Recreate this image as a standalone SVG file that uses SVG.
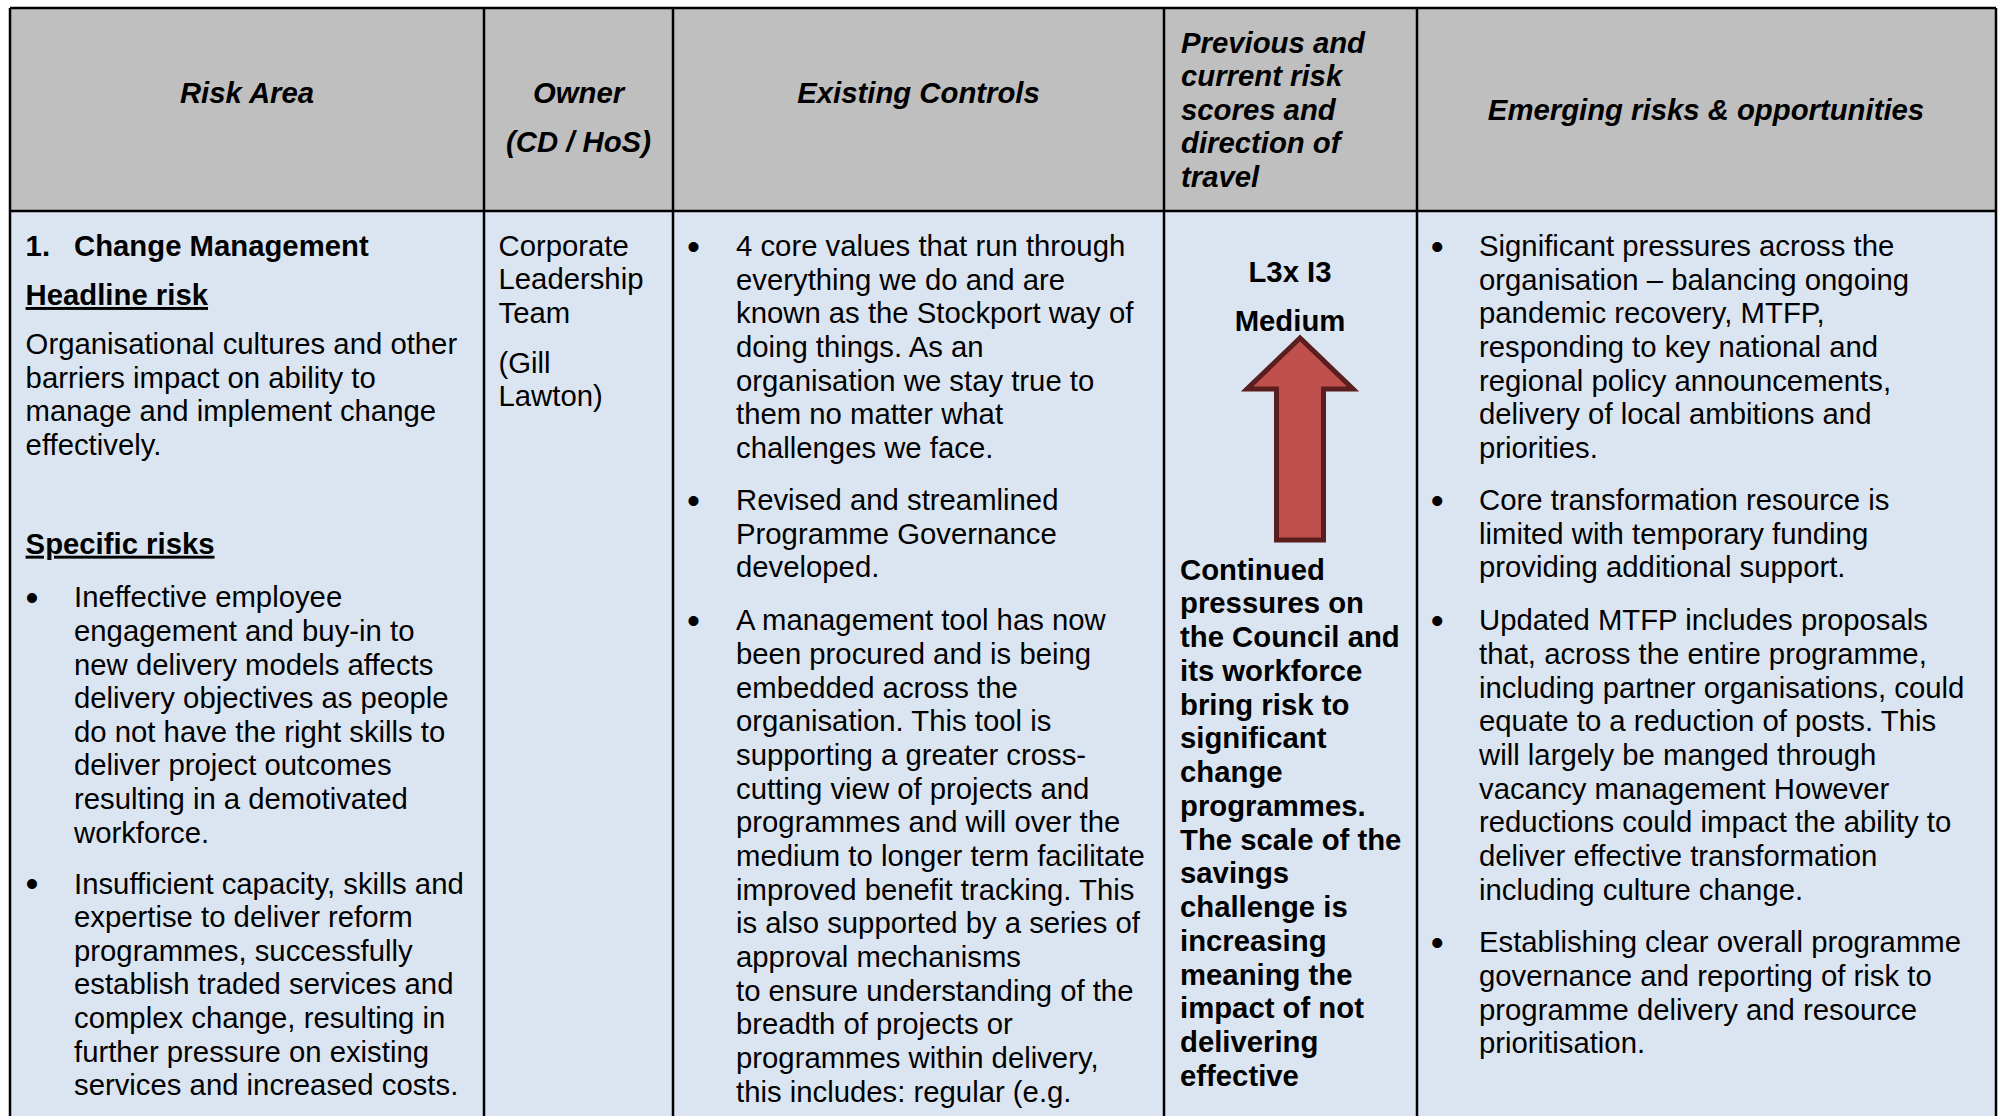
<svg xmlns="http://www.w3.org/2000/svg" width="2004" height="1116" viewBox="0 0 2004 1116">
<style>
text{font-family:"Liberation Sans",Arial,sans-serif;font-size:29.3px;fill:#000}
.h{font-weight:bold;font-style:italic}
.b{font-weight:bold}
.c{text-anchor:middle}
.u{text-decoration:underline}
.bl{font-size:37px;text-anchor:middle}
.grid{stroke:#000;stroke-width:2.5;fill:none}
</style>
<rect x="0" y="0" width="2004" height="1116" fill="#fff"/>
<rect x="10" y="8" width="1986" height="203" fill="#bfbfbf"/>
<rect x="10" y="211" width="1986" height="905" fill="#dbe5f1"/>

<g id="grid" class="grid">
<path d="M10 8H1996M10 211H1996M10 8V1116M484 8V1116M673 8V1116M1164 8V1116M1417 8V1116M1996 8V1116"/>
</g>

<g id="header-risk-area"><text class="h c" x="247" y="102.5">Risk Area</text></g>
<g id="header-owner"><text class="h c" x="578.5" y="102.5">Owner</text><text class="h c" x="578.5" y="152">(CD / HoS)</text></g>
<g id="header-controls"><text class="h c" x="918.5" y="102.5">Existing Controls</text></g>
<g id="header-scores" class="h">
<text class="h" x="1181" y="52.5">Previous and</text>
<text class="h" x="1181" y="86.1">current risk</text>
<text class="h" x="1181" y="119.7">scores and</text>
<text class="h" x="1181" y="153.3">direction of</text>
<text class="h" x="1181" y="186.9">travel</text>
</g>
<g id="header-emerging"><text class="h c" x="1706" y="120">Emerging risks &amp; opportunities</text></g>

<g id="cell-risk-area">
<text class="b" x="25.6" y="255.5">1.</text>
<text class="b" x="74" y="255.5">Change Management</text>
<text class="b u" x="25.6" y="305">Headline risk</text>
<text x="25.6" y="354">Organisational cultures and other</text>
<text x="25.6" y="387.6">barriers impact on ability to</text>
<text x="25.6" y="421.2">manage and implement change</text>
<text x="25.6" y="454.8">effectively.</text>
<text class="b u" x="25.6" y="553.7">Specific risks</text>
<text class="bl" x="32" y="610">•</text>
<text x="74" y="607.3">Ineffective employee</text>
<text x="74" y="640.9">engagement and buy-in to</text>
<text x="74" y="674.5">new delivery models affects</text>
<text x="74" y="708.1">delivery objectives as people</text>
<text x="74" y="741.7">do not have the right skills to</text>
<text x="74" y="775.3">deliver project outcomes</text>
<text x="74" y="808.9">resulting in a demotivated</text>
<text x="74" y="842.5">workforce.</text>
<text class="bl" x="32" y="896.3">•</text>
<text x="74" y="893.6">Insufficient capacity, skills and</text>
<text x="74" y="927.2">expertise to deliver reform</text>
<text x="74" y="960.8">programmes, successfully</text>
<text x="74" y="994.4">establish traded services and</text>
<text x="74" y="1028">complex change, resulting in</text>
<text x="74" y="1061.6">further pressure on existing</text>
<text x="74" y="1095.2">services and increased costs.</text>
</g>

<g id="cell-owner">
<text x="498.5" y="255.5">Corporate</text>
<text x="498.5" y="289">Leadership</text>
<text x="498.5" y="322.7">Team</text>
<text x="498.5" y="372.5">(Gill</text>
<text x="498.5" y="406">Lawton)</text>
</g>

<g id="cell-controls">
<text class="bl" x="693.5" y="258.7">•</text>
<text x="736" y="256">4 core values that run through</text>
<text x="736" y="289.65">everything we do and are</text>
<text x="736" y="323.3">known as the Stockport way of</text>
<text x="736" y="356.95">doing things. As an</text>
<text x="736" y="390.6">organisation we stay true to</text>
<text x="736" y="424.25">them no matter what</text>
<text x="736" y="457.9">challenges we face.</text>
<text class="bl" x="693.5" y="512.7">•</text>
<text x="736" y="510">Revised and streamlined</text>
<text x="736" y="543.65">Programme Governance</text>
<text x="736" y="577.3">developed.</text>
<text class="bl" x="693.5" y="633.1">•</text>
<text x="736" y="630.4">A management tool has now</text>
<text x="736" y="664.05">been procured and is being</text>
<text x="736" y="697.7">embedded across the</text>
<text x="736" y="731.35">organisation. This tool is</text>
<text x="736" y="765">supporting a greater cross-</text>
<text x="736" y="798.65">cutting view of projects and</text>
<text x="736" y="832.3">programmes and will over the</text>
<text x="736" y="865.95">medium to longer term facilitate</text>
<text x="736" y="899.6">improved benefit tracking. This</text>
<text x="736" y="933.25">is also supported by a series of</text>
<text x="736" y="966.9">approval mechanisms</text>
<text x="736" y="1000.55">to ensure understanding of the</text>
<text x="736" y="1034.2">breadth of projects or</text>
<text x="736" y="1067.85">programmes within delivery,</text>
<text x="736" y="1101.5">this includes: regular (e.g.</text>
</g>

<g id="cell-scores">
<text class="b c" x="1290" y="281.5">L3x I3</text>
<text class="b c" x="1290" y="331">Medium</text>
<polygon points="1300,338 1247,389 1276.5,389 1276.5,540 1323.5,540 1323.5,389 1353,389" fill="#c0504d" stroke="#5a1e1e" stroke-width="5" stroke-linejoin="miter"/>
<text class="b" x="1180" y="579.5">Continued</text>
<text class="b" x="1180" y="613.25">pressures on</text>
<text class="b" x="1180" y="647">the Council and</text>
<text class="b" x="1180" y="680.75">its workforce</text>
<text class="b" x="1180" y="714.5">bring risk to</text>
<text class="b" x="1180" y="748.25">significant</text>
<text class="b" x="1180" y="782">change</text>
<text class="b" x="1180" y="815.75">programmes.</text>
<text class="b" x="1180" y="849.5">The scale of the</text>
<text class="b" x="1180" y="883.25">savings</text>
<text class="b" x="1180" y="917">challenge is</text>
<text class="b" x="1180" y="950.75">increasing</text>
<text class="b" x="1180" y="984.5">meaning the</text>
<text class="b" x="1180" y="1018.25">impact of not</text>
<text class="b" x="1180" y="1052">delivering</text>
<text class="b" x="1180" y="1085.75">effective</text>
</g>

<g id="cell-emerging">
<text class="bl" x="1437.3" y="258.7">•</text>
<text x="1479" y="256">Significant pressures across the</text>
<text x="1479" y="289.65">organisation – balancing ongoing</text>
<text x="1479" y="323.3">pandemic recovery, MTFP,</text>
<text x="1479" y="356.95">responding to key national and</text>
<text x="1479" y="390.6">regional policy announcements,</text>
<text x="1479" y="424.25">delivery of local ambitions and</text>
<text x="1479" y="457.9">priorities.</text>
<text class="bl" x="1437.3" y="512.7">•</text>
<text x="1479" y="510">Core transformation resource is</text>
<text x="1479" y="543.65">limited with temporary funding</text>
<text x="1479" y="577.3">providing additional support.</text>
<text class="bl" x="1437.3" y="633.1">•</text>
<text x="1479" y="630.4">Updated MTFP includes proposals</text>
<text x="1479" y="664.05">that, across the entire programme,</text>
<text x="1479" y="697.7">including partner organisations, could</text>
<text x="1479" y="731.35">equate to a reduction of posts. This</text>
<text x="1479" y="765">will largely be manged through</text>
<text x="1479" y="798.65">vacancy management However</text>
<text x="1479" y="832.3">reductions could impact the ability to</text>
<text x="1479" y="865.95">deliver effective transformation</text>
<text x="1479" y="899.6">including culture change.</text>
<text class="bl" x="1437.3" y="955.1">•</text>
<text x="1479" y="952.4">Establishing clear overall programme</text>
<text x="1479" y="986.05">governance and reporting of risk to</text>
<text x="1479" y="1019.7">programme delivery and resource</text>
<text x="1479" y="1053.35">prioritisation.</text>
</g>
</svg>
